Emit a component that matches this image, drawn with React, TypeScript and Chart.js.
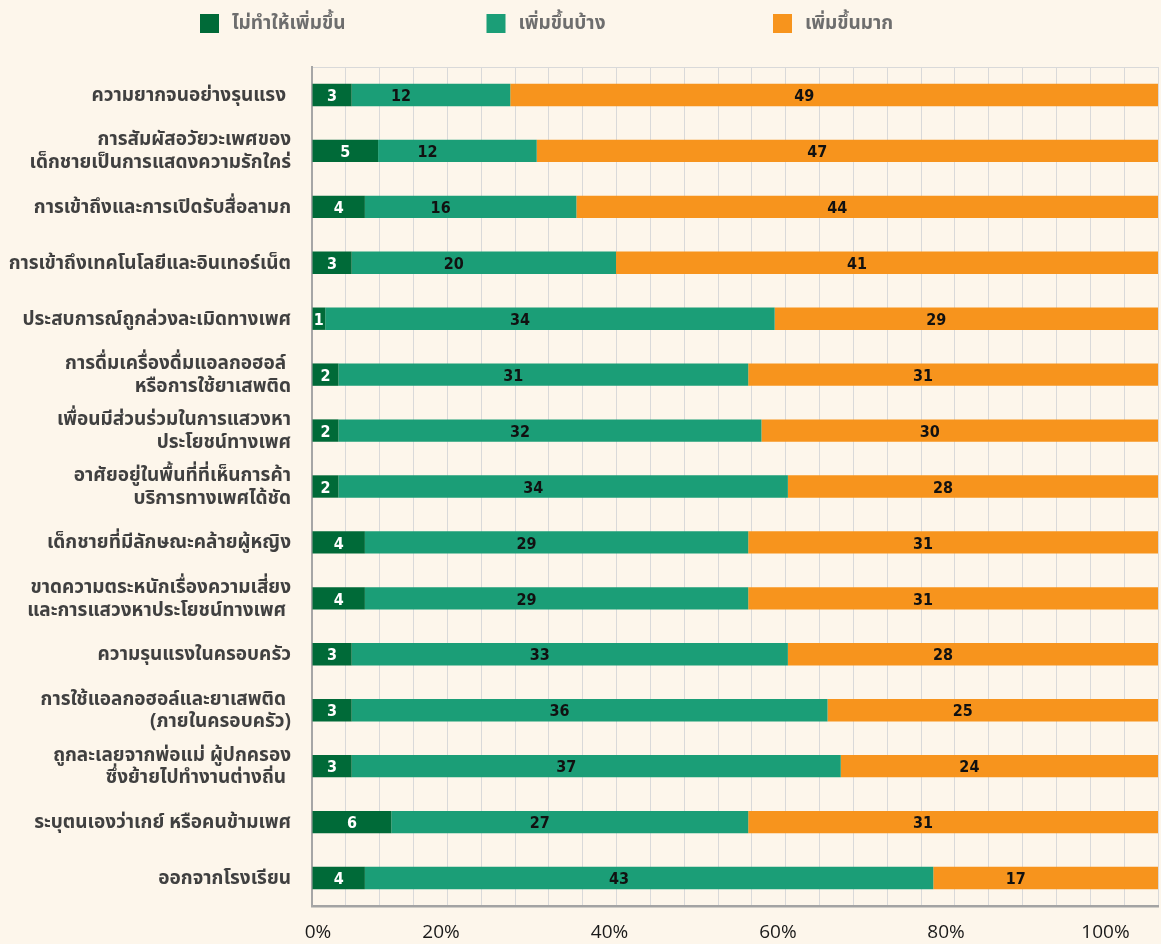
import React, { useEffect, useRef } from "react";
import { Chart, registerables } from "chart.js";

Chart.register(...registerables);

// ---------- data ----------
const CATEGORIES: (string | string[])[] = [
  "ความยากจนอย่างรุนแรง ",
  ["การสัมผัสอวัยวะเพศของ", "เด็กชายเป็นการแสดงความรักใคร่"],
  "การเข้าถึงและการเปิดรับสื่อลามก",
  "การเข้าถึงเทคโนโลยีและอินเทอร์เน็ต",
  "ประสบการณ์ถูกล่วงละเมิดทางเพศ",
  ["การดื่มเครื่องดื่มแอลกอฮอล์ ", "หรือการใช้ยาเสพติด"],
  ["เพื่อนมีส่วนร่วมในการแสวงหา", "ประโยชน์ทางเพศ"],
  ["อาศัยอยู่ในพื้นที่ที่เห็นการค้า", "บริการทางเพศได้ชัด"],
  "เด็กชายที่มีลักษณะคล้ายผู้หญิง",
  ["ขาดความตระหนักเรื่องความเสี่ยง", "และการแสวงหาประโยชน์ทางเพศ "],
  "ความรุนแรงในครอบครัว",
  ["การใช้แอลกอฮอล์และยาเสพติด ", "(ภายในครอบครัว)"],
  ["ถูกละเลยจากพ่อแม่ ผู้ปกครอง", "ซึ่งย้ายไปทำงานต่างถิ่น "],
  "ระบุตนเองว่าเกย์ หรือคนข้ามเพศ",
  "ออกจากโรงเรียน",
];

const SERIES_NAMES = ["ไม่ทำให้เพิ่มขึ้น", "เพิ่มขึ้นบ้าง", "เพิ่มขึ้นมาก"];

const NOT_INCREASE = [3, 5, 4, 3, 1, 2, 2, 2, 4, 4, 3, 3, 3, 6, 4];
const INCREASE_SOME = [12, 12, 16, 20, 34, 31, 32, 34, 29, 29, 33, 36, 37, 27, 43];
const INCREASE_MUCH = [49, 47, 44, 41, 29, 31, 30, 28, 31, 31, 28, 25, 24, 31, 17];

const AXIS_MAX = 64;
const GRID_DIVISIONS = 25;

const TICK_LABELS = ["0%", "20%", "40%", "60%", "80%", "100%"];
// where the percentage labels sit, as % of the plot width
const TICK_POS = [0.7, 15.25, 35.17, 55.08, 74.94, 93.79];

// ---------- styles ----------
const BG = "#fdf6eb";
const COLORS = ["#006a38", "#1b9e77", "#f7941d"];
const LABEL_COLORS = ["#ffffff", "#111111", "#111111"];
const LABEL_SHIFT = [0, -30, -30];
const THAI_FONT = '"Noto Sans Thai", "Noto Sans Thai UI", "Noto Sans", "DejaVu Sans", sans-serif';

const backgroundPlugin = {
  id: "bgPlugin",
  beforeDraw(chart: any) {
    const { ctx, width, height, chartArea } = chart;
    ctx.save();
    ctx.fillStyle = BG;
    ctx.fillRect(0, 0, width, height);
    ctx.strokeStyle = "#d9d9d9";
    ctx.lineWidth = 1;
    ctx.beginPath();
    ctx.moveTo(chartArea.left, chartArea.top + 0.5);
    ctx.lineTo(chartArea.right, chartArea.top + 0.5);
    ctx.stroke();
    ctx.restore();
  },
};

const legendPlugin = {
  id: "customLegend",
  afterDraw(chart: any) {
    const { ctx } = chart;
    const x0 = 200;
    const step = 286.5;
    const y = 14;
    const box = 19;
    ctx.save();
    ctx.font = `bold 19px ${THAI_FONT}`;
    ctx.textBaseline = "middle";
    ctx.textAlign = "left";
    chart.data.datasets.forEach((ds: any, i: number) => {
      const x = x0 + i * step;
      ctx.fillStyle = ds.backgroundColor;
      ctx.fillRect(x, y, box, box);
      ctx.fillStyle = "#6e6e6e";
      ctx.fillText(ds.label, x + box + 13, y + box / 2 + 2);
    });
    ctx.restore();
  },
};

const valueLabelPlugin = {
  id: "valueLabels",
  afterDatasetsDraw(chart: any) {
    const { ctx } = chart;
    ctx.save();
    ctx.font = 'bold 16px "DejaVu Sans Condensed", "DejaVu Sans", sans-serif';
    ctx.textAlign = "center";
    ctx.textBaseline = "middle";
    chart.data.datasets.forEach((ds: any, di: number) => {
      const meta = chart.getDatasetMeta(di);
      meta.data.forEach((el: any, i: number) => {
        const v = ds.data[i];
        if (!v) return;
        const cx = (el.x + el.base) / 2 + LABEL_SHIFT[di];
        ctx.fillStyle = LABEL_COLORS[di];
        ctx.fillText(String(v), cx, el.y + 2);
      });
    });
    ctx.restore();
  },
};

export default function App() {
  const canvasRef = useRef<HTMLCanvasElement | null>(null);

  useEffect(() => {
    document.body.style.margin = "0";
    document.body.style.background = BG;
    const canvas = canvasRef.current;
    if (!canvas) return;
    const seriesValues = [NOT_INCREASE, INCREASE_SOME, INCREASE_MUCH];
    const chart = new Chart(canvas, {
      type: "bar",
      data: {
        labels: CATEGORIES as any,
        datasets: seriesValues.map((vals, i) => ({
          label: SERIES_NAMES[i],
          data: vals,
          backgroundColor: COLORS[i],
          borderWidth: 0,
          categoryPercentage: 1,
          barPercentage: 0.4,
        })),
      },
      options: {
        indexAxis: "y",
        animation: false,
        responsive: false,
        devicePixelRatio: 1,
        layout: { padding: { top: 67, right: 3, bottom: 0, left: 0 } },
        plugins: {
          legend: { display: false },
          tooltip: { enabled: false },
        },
        scales: {
          x: {
            type: "linear",
            stacked: true,
            min: 0,
            max: AXIS_MAX,
            position: "bottom",
            afterBuildTicks(scale: any) {
              const ticks = [];
              for (let i = 0; i <= GRID_DIVISIONS; i++) {
                ticks.push({ value: (AXIS_MAX / GRID_DIVISIONS) * i });
              }
              scale.ticks = ticks;
            },
            afterFit(scale: any) {
              scale.height = 0;
            },
            ticks: { display: false },
            grid: { color: "#d9d9d9", lineWidth: 1, drawTicks: false },
            border: { display: true, color: "#a3a3a3", width: 2.5 },
          },
          x2: {
            type: "linear",
            position: "bottom",
            min: 0,
            max: 100,
            afterBuildTicks(scale: any) {
              scale.ticks = TICK_POS.map((v) => ({ value: v }));
            },
            afterFit(scale: any) {
              scale.height = 38;
            },
            ticks: {
              autoSkip: false,
              maxRotation: 0,
              padding: 15,
              color: "#1a1a1a",
              font: { family: '"Open Sans", "Liberation Sans", sans-serif', size: 19 },
              callback: (_v: any, i: number) => TICK_LABELS[i],
            },
            grid: { display: false, drawTicks: false },
            border: { display: false },
          },
          y: {
            stacked: true,
            afterFit(scale: any) {
              scale.width = 312;
            },
            ticks: {
              padding: 21,
              labelOffset: 2,
              color: "#404040",
              font: { family: THAI_FONT, size: 19, weight: "bold", lineHeight: 1.2 },
            },
            grid: { display: false, drawTicks: false },
            border: { display: true, color: "#a6a6a6", width: 2 },
          },
        },
      },
      plugins: [backgroundPlugin, valueLabelPlugin, legendPlugin],
    });
    return () => chart.destroy();
  }, []);

  return (
    <div style={{ width: 1161, height: 944, background: BG }}>
      <canvas ref={canvasRef} width={1161} height={944} style={{ display: "block" }} />
    </div>
  );
}
